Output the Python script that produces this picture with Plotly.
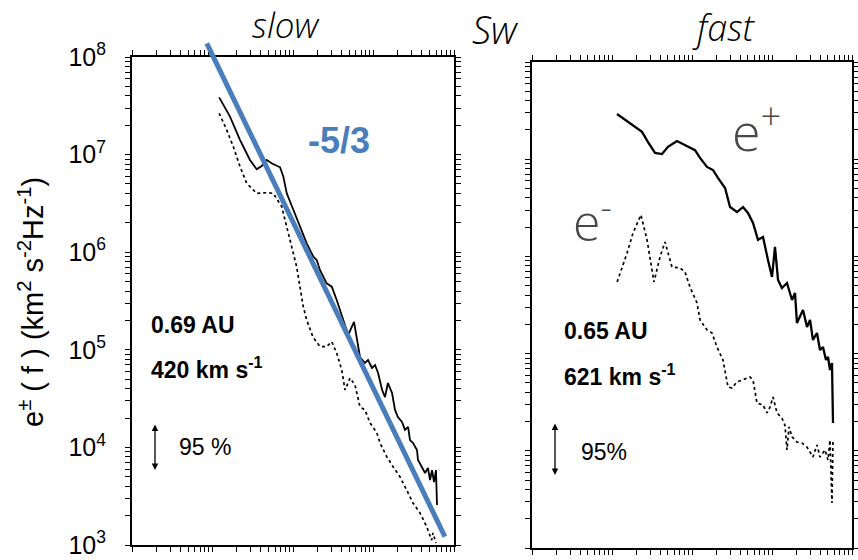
import plotly.graph_objects as go

# ---------------- data ----------------
# slow wind, 0.69 AU : frequency (Hz), e+ (solid) and e- (dotted) in km^2 s^-2 Hz^-1
slow_f_plus = [1.21e-5, 1.65e-5, 2.20e-5, 2.92e-5, 3.54e-5, 4.08e-5, 4.71e-5, 5.43e-5,
               6.90e-5, 7.59e-5, 8.36e-5, 1.01e-4, 1.22e-4, 1.48e-4, 1.79e-4, 1.97e-4,
               2.16e-4, 2.62e-4, 3.03e-4, 3.49e-4, 4.86e-4, 5.73e-4, 6.79e-4, 7.83e-4,
               8.55e-4, 9.57e-4, 1.045e-3, 1.14e-3, 1.28e-3, 1.39e-3, 1.51e-3, 1.70e-3,
               1.85e-3, 2.01e-3, 2.26e-3, 2.46e-3, 2.69e-3, 2.84e-3, 3.10e-3, 3.47e-3,
               3.57e-3, 4.00e-3, 4.37e-3, 4.75e-3, 5.04e-3, 5.33e-3, 5.65e-3, 5.97e-3,
               6.15e-3]
slow_e_plus = [3.86e7, 2.45e7, 1.41e7, 8.81e6, 7.07e6, 7.64e6, 8.81e6, 8.15e6,
               7.41e6, 5.94e6, 4.01e6, 2.71e6, 1.82e6, 1.23e6, 8.99e5, 8.32e5,
               6.57e5, 4.80e5, 4.43e5, 3.24e5, 1.42e5, 1.93e5, 8.44e4, 7.33e4,
               7.85e4, 6.51e4, 6.98e4, 5.78e4, 3.87e4, 3.28e4, 4.57e4, 3.61e4,
               2.42e4, 2.05e4, 1.82e4, 1.51e4, 1.62e4, 1.19e4, 1.11e4, 9.40e3,
               7.43e3, 6.30e3, 5.47e3, 6.15e3, 4.63e3, 5.86e3, 4.42e3, 5.86e3,
               2.57e3]

slow_f_minus = [1.21e-5, 1.50e-5, 1.81e-5, 2.20e-5, 2.66e-5, 3.54e-5, 4.71e-5, 5.69e-5,
                7.24e-5, 8.36e-5, 9.64e-5, 1.11e-4, 1.22e-4, 1.34e-4, 1.48e-4, 1.77e-4,
                2.16e-4, 2.62e-4, 3.03e-4, 3.49e-4, 4.03e-4, 4.43e-4, 5.11e-4, 5.89e-4,
                6.79e-4, 7.83e-4, 9.05e-4, 1.10e-3, 1.205e-3, 1.46e-3, 1.75e-3, 2.13e-3,
                2.58e-3, 3.10e-3, 3.78e-3, 4.58e-3, 5.28e-3, 5.48e-3, 5.97e-3]
slow_e_minus = [2.65e7, 1.79e7, 1.21e7, 7.52e6, 5.08e6, 4.01e6, 4.07e6, 4.01e6,
                2.93e6, 1.82e6, 1.14e6, 7.10e5, 4.43e5, 2.77e5, 2.02e5, 1.35e5,
                1.08e5, 1.08e5, 1.21e5, 9.27e4, 6.21e4, 3.87e4, 5.14e4, 4.36e4,
                2.61e4, 2.42e4, 1.78e4, 1.41e4, 1.11e4, 8.04e3, 6.34e3, 5.01e3,
                3.66e3, 2.69e3, 2.13e3, 1.54e3, 1.12e3, 1.33e3, 1.05e3]

# fast wind, 0.65 AU
fast_f_plus = [1.155e-5, 1.68e-5, 2.37e-5, 2.82e-5, 3.45e-5, 4.22e-5, 5.01e-5, 6.49e-5,
               8.18e-5, 1.09e-4, 1.26e-4, 1.54e-4, 1.83e-4, 2.11e-4, 2.59e-4, 2.99e-4,
               3.65e-4, 4.34e-4, 5.01e-4, 5.79e-4, 6.68e-4, 7.72e-4, 8.91e-4, 1.00e-3,
               1.09e-3, 1.19e-3, 1.33e-3, 1.54e-3, 1.78e-3, 1.94e-3, 2.05e-3, 2.24e-3,
               2.44e-3, 2.74e-3, 2.99e-3, 3.25e-3, 3.65e-3, 3.98e-3, 4.34e-3, 4.73e-3,
               5.01e-3, 5.31e-3, 5.62e-3, 5.79e-3]
fast_e_plus = [2.92e7, 2.36e7, 1.91e7, 1.50e7, 1.16e7, 1.13e7, 1.34e7, 1.54e7,
               1.40e7, 1.24e7, 1.03e7, 8.32e6, 7.74e6, 6.41e6, 5.06e6, 3.22e6,
               2.86e6, 3.22e6, 2.80e6, 2.21e6, 1.48e6, 1.58e6, 9.18e5, 6.14e5,
               1.25e6, 5.71e5, 4.73e5, 5.32e5, 3.56e5, 4.20e5, 2.07e5, 2.38e5,
               2.81e5, 1.88e5, 2.22e5, 1.38e5, 1.63e5, 1.09e5, 1.17e5, 8.60e4,
               9.23e4, 6.78e4, 8.00e4, 1.93e4]

fast_f_minus = [1.16e-5, 1.54e-5, 1.83e-5, 2.30e-5, 2.74e-5, 3.35e-5, 3.98e-5, 4.60e-5,
                5.62e-5, 7.08e-5, 8.18e-5, 9.44e-5, 1.155e-4, 1.26e-4, 1.54e-4, 1.78e-4,
                2.05e-4, 2.44e-4, 2.82e-4, 3.16e-4, 3.65e-4, 4.34e-4, 5.31e-4, 5.79e-4,
                6.49e-4, 7.72e-4, 8.66e-4, 9.44e-4, 1.03e-3, 1.155e-3, 1.33e-3, 1.45e-3,
                1.54e-3, 1.63e-3, 1.78e-3, 2.05e-3, 2.37e-3, 2.74e-3, 3.25e-3, 3.65e-3,
                3.98e-3, 4.60e-3, 5.01e-3, 5.31e-3, 5.62e-3, 5.79e-3]
fast_e_minus = [5.46e5, 1.08e6, 1.74e6, 2.67e6, 1.48e6, 5.46e5, 9.86e5, 1.41e6,
                7.78e5, 7.60e5, 6.91e5, 4.84e5, 3.32e5, 2.22e5, 1.75e5, 1.63e5,
                1.17e5, 8.60e4, 4.53e4, 4.43e4, 5.11e4, 5.35e4, 5.74e4, 5.35e4,
                3.10e4, 2.96e4, 2.45e4, 2.82e4, 3.57e4, 2.45e4, 2.17e4, 1.84e4,
                1.02e4, 1.76e4, 1.39e4, 1.23e4, 1.20e4, 1.09e4, 8.63e3, 1.15e4,
                8.63e3, 1.02e4, 8.04e3, 1.29e4, 2.90e3, 1.29e4]

# hand-drawn -5/3 reference line (end points)
slope_f = [8.5e-6, 7.7e-3]
slope_e = [1.38e8, 1.22e3]

# axis decades and tick labels
x_decades = [1e-6, 1e-5, 1e-4, 1e-3, 1e-2]
y_decades = [1e3, 1e4, 1e5, 1e6, 1e7, 1e8]
y_labels = ["10<sup>3</sup>", "10<sup>4</sup>", "10<sup>5</sup>",
            "10<sup>6</sup>", "10<sup>7</sup>", "10<sup>8</sup>"]

BLUE = "#4a7ebb"
W, H = 858, 560


def px_x(p):
    return p / W


def px_y(p):
    return 1 - p / H


def all_log_ticks(decades):
    vals = []
    for d in decades[:-1]:
        vals += [k * d for k in range(1, 10)]
    vals.append(decades[-1])
    return vals


x_all = all_log_ticks(x_decades)
y_all = all_log_ticks(y_decades)
y_all_text = [y_labels[y_decades.index(v)] if v in y_decades else "" for v in y_all]

fig = go.Figure()

fig.add_trace(go.Scatter(x=slow_f_plus, y=slow_e_plus, mode="lines",
                         line=dict(color="black", width=1.8), xaxis="x", yaxis="y",
                         name="e+ slow"))
fig.add_trace(go.Scatter(x=slow_f_minus, y=slow_e_minus, mode="lines",
                         line=dict(color="black", width=1.7, dash="dot"), xaxis="x", yaxis="y",
                         name="e- slow"))
fig.add_trace(go.Scatter(x=fast_f_plus, y=fast_e_plus, mode="lines",
                         line=dict(color="black", width=2.3), xaxis="x2", yaxis="y2",
                         name="e+ fast"))
fig.add_trace(go.Scatter(x=fast_f_minus, y=fast_e_minus, mode="lines",
                         line=dict(color="black", width=1.7, dash="dot"), xaxis="x2", yaxis="y2",
                         name="e- fast"))
# -5/3 line on an invisible companion subplot with the same scale, extended above the frame
fig.add_trace(go.Scatter(x=slope_f, y=slope_e, mode="lines",
                         line=dict(color=BLUE, width=5), xaxis="x3", yaxis="y3",
                         name="-5/3"))

L_x0, L_x1 = 132, 454
L_y0, L_y1 = 57, 545
R_x0, R_x1 = 532, 852
R_y0, R_y1 = 62, 548
dec_L = (L_y1 - L_y0) / 5.0
top_aux = 30

XR = [-6, -2]
YR = [3, 8]


def frame_axis(vals, text=None):
    d = dict(type="log", showgrid=False, zeroline=False, showline=True,
             linecolor="black", linewidth=2, mirror="allticks", automargin=False,
             ticks="outside", ticklen=5, tickwidth=1, tickcolor="black",
             tickmode="array", tickvals=vals)
    if text is None:
        d["showticklabels"] = False
    else:
        d["ticktext"] = text
    return d


def decade_axis(vals, overlay, anchor):
    return dict(type="log", showgrid=False, zeroline=False, showline=False,
                mirror="allticks", automargin=False, overlaying=overlay, anchor=anchor,
                ticks="outside", ticklen=10, tickwidth=1.6, tickcolor="black",
                tickmode="array", tickvals=vals, showticklabels=False)


fig.update_layout(
    width=W, height=H, margin=dict(l=0, r=0, t=0, b=0, pad=0, autoexpand=False),
    paper_bgcolor="white", plot_bgcolor="rgba(0,0,0,0)", showlegend=False,
    font=dict(family="Liberation Sans, Arial, sans-serif", color="black"),
    xaxis=dict(**frame_axis(x_all), domain=[px_x(L_x0), px_x(L_x1)], range=XR, anchor="y"),
    yaxis=dict(**frame_axis(y_all, y_all_text), domain=[px_y(L_y1), px_y(L_y0)], range=YR,
               tickfont=dict(size=25, family="Liberation Sans, Arial, sans-serif"),
               ticklabelstandoff=14, anchor="x"),
    xaxis2=dict(**frame_axis(x_all), domain=[px_x(R_x0), px_x(R_x1)], range=XR, anchor="y2"),
    yaxis2=dict(**frame_axis(y_all), domain=[px_y(R_y1), px_y(R_y0)], range=YR, anchor="x2"),
    xaxis3=dict(type="log", visible=False, automargin=False,
                domain=[px_x(L_x0), px_x(L_x1)], range=XR, anchor="y3"),
    yaxis3=dict(type="log", visible=False, automargin=False,
                domain=[px_y(L_y1), px_y(top_aux)],
                range=[3, 3 + (L_y1 - top_aux) / dec_L], anchor="x3"),
    # longer decade ticks
    xaxis4=dict(**decade_axis(x_decades, "x", "y"), range=XR),
    yaxis4=dict(**decade_axis(y_decades, "y", "x"), range=YR),
    xaxis5=dict(**decade_axis(x_decades, "x2", "y2"), range=XR),
    yaxis5=dict(**decade_axis(y_decades, "y2", "x2"), range=YR),
)

ann = []


def txt(text, x, y, size, xanchor="left", color="black", bold=False, italic=False,
        family="Liberation Sans, Arial, sans-serif", angle=0, weight=None):
    w = weight if weight is not None else ("bold" if bold else "normal")
    ann.append(dict(text=text, x=px_x(x), y=px_y(y), xref="paper", yref="paper",
                    xanchor=xanchor, yanchor="middle", showarrow=False, textangle=angle,
                    font=dict(size=size, color=color, family=family, weight=w,
                              style="italic" if italic else "normal")))


# y-axis title
txt("e<sup>±</sup> ( f ) (km<sup>2</sup> s<sup>-2</sup>Hz<sup>-1</sup>)", 31, 302, 29,
    xanchor="center", angle=-90)

# left panel texts
txt("0.69 AU", 149, 325, 23, bold=True)
txt("420 km s<sup>-1</sup>", 149, 368, 23, bold=True)
txt("95 %", 177, 447, 23)
# right panel texts
txt("0.65 AU", 562, 331, 23, bold=True)
txt("621 km s<sup>-1</sup>", 562, 375, 23, bold=True)
txt("95%", 579, 452, 23)

# -5/3 label
txt("-5/3", 339, 140, 36, xanchor="center", color=BLUE, bold=True)

# handwritten notes
hand = "Open Sans, DejaVu Sans, sans-serif"
txt("slow", 286, 25, 35, xanchor="center", italic=True, family=hand, weight=300)
txt("Sw", 496, 29, 38, xanchor="center", italic=True, family=hand, weight=300)
txt("fast", 724, 27, 36, xanchor="center", italic=True, family=hand, weight=300)
txt("e<sup>+</sup>", 756, 128, 52, xanchor="center", color="#484848", family=hand, weight=300)
txt("e<sup>-</sup>", 592, 220, 50, xanchor="center", color="#484848", family=hand, weight=300)

# 95% double arrows
for ax_x, y_top, y_bot in [(155, 423, 470), (555, 422, 475)]:
    ann.append(dict(x=px_x(ax_x), y=px_y(y_bot), xref="paper", yref="paper",
                    ax=0, ay=-(y_bot - y_top), axref="pixel", ayref="pixel",
                    text="", showarrow=True, arrowside="end+start", arrowhead=2,
                    startarrowhead=2, arrowsize=1.0, startarrowsize=1.0,
                    arrowwidth=1.3, arrowcolor="black"))

fig.update_layout(annotations=ann)

fig.write_html("out.html")
